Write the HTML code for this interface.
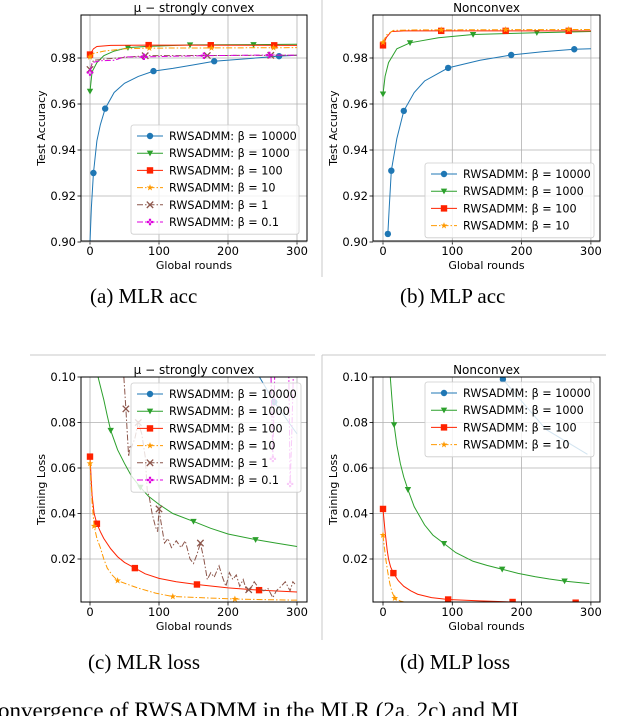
<!DOCTYPE html>
<html><head><meta charset="utf-8">
<style>
html,body{margin:0;padding:0;background:#fff;width:628px;height:716px;overflow:hidden;position:relative}
svg{position:absolute;left:0;top:0}
.cap{position:absolute;font-family:"Liberation Serif",serif;font-size:21px;color:#000;white-space:nowrap}
</style></head>
<body>
<svg id="fig" width="628" height="716"></svg>
<div class="cap" style="left:90px;top:284px">(a) MLR acc</div>
<div class="cap" style="left:400px;top:284px">(b) MLP acc</div>
<div class="cap" style="left:88px;top:650px">(c) MLR loss</div>
<div class="cap" style="left:400px;top:650px">(d) MLP loss</div>
<div class="cap" style="left:-2px;top:698px;font-size:23px">onvergence of RWSADMM in the MLR (2a, 2c) and MI</div>
<script>
// ---- data ----
const xTicks=[0,100,200,300];
const accTicks=[0.90,0.92,0.94,0.96,0.98];
const lossTicks=[0.02,0.04,0.06,0.08,0.10];
const legendLabels=["RWSADMM: \u03B2 = 10000","RWSADMM: \u03B2 = 1000","RWSADMM: \u03B2 = 100","RWSADMM: \u03B2 = 10","RWSADMM: \u03B2 = 1","RWSADMM: \u03B2 = 0.1"];

const aB10000=[[0,0.900],[2,0.915],[5,0.930],[10,0.944],[15,0.951],[22,0.958],[35,0.965],[50,0.969],[70,0.972],[92,0.9743],[120,0.9755],[150,0.977],[180,0.9786],[220,0.9795],[274,0.9808],[300,0.9812]];
const aB1000=[[0,0.9655],[3,0.974],[10,0.978],[20,0.981],[35,0.983],[55,0.9845],[80,0.985],[145,0.9857],[237,0.9858],[300,0.986]];
const aB100=[[0,0.9815],[5,0.984],[10,0.985],[30,0.9855],[85,0.9856],[300,0.9855]];
const aB10=[[0,0.9805],[5,0.982],[20,0.983],[50,0.984],[86,0.9843],[300,0.9845]];
const aB1=[[0,0.975],[5,0.979],[20,0.9795],[40,0.980],[80,0.981],[300,0.9812]];
const aB01=[[0,0.9737],[3,0.978],[15,0.9788],[35,0.979],[50,0.9805],[78,0.9805],[165,0.981],[260,0.9813],[300,0.9812]];

const bB10000=[[7,0.9035],[9,0.915],[12,0.931],[20,0.945],[30,0.957],[45,0.965],[60,0.970],[94,0.9757],[140,0.979],[185,0.9813],[230,0.9827],[276,0.9838],[300,0.984]];
const bB1000=[[0,0.9643],[3,0.972],[8,0.978],[20,0.984],[39,0.9866],[80,0.9888],[130,0.9902],[222,0.991],[300,0.9915]];
const bB100=[[0,0.9855],[5,0.989],[12,0.9915],[30,0.9918],[300,0.9918]];
const bB10=[[0,0.9868],[5,0.990],[15,0.992],[40,0.9922],[300,0.9924]];

const cB10000=[[230,0.108],[267,0.089],[300,0.075]];
const cB1000=[[10,0.102],[15,0.096],[20,0.090],[25,0.083],[30,0.0765],[40,0.068],[50,0.062],[60,0.0565],[73,0.0515],[85,0.0475],[100,0.044],[120,0.040],[150,0.0365],[175,0.0335],[200,0.031],[240,0.0285],[270,0.027],[300,0.0255]];
const cB100=[[0,0.065],[3,0.048],[6,0.040],[10,0.0355],[15,0.032],[20,0.029],[30,0.0245],[40,0.021],[50,0.0185],[65,0.016],[80,0.0135],[100,0.0115],[125,0.0100],[155,0.0088],[200,0.0073],[245,0.0063],[300,0.0055]];
const cB10=[[0,0.062],[3,0.045],[6,0.0345],[10,0.029],[15,0.025],[20,0.020],[25,0.016],[32,0.013],[40,0.0105],[55,0.0088],[70,0.0072],[95,0.005],[120,0.0035],[160,0.003],[210,0.0024],[260,0.0021],[300,0.0019]];
const cB1=[[48,0.105],[52,0.086],[56,0.065],[58,0.07],[60,0.069],[65,0.073],[70,0.08],[75,0.075],[80,0.065],[83,0.05],[86,0.047],[90,0.04],[95,0.034],[98,0.032],[100,0.042],[103,0.036],[108,0.027],[113,0.029],[118,0.025],[125,0.028],[132,0.025],[138,0.028],[145,0.02],[150,0.018],[155,0.022],[160,0.027],[165,0.02],[170,0.011],[175,0.014],[180,0.012],[187,0.017],[192,0.012],[197,0.008],[202,0.014],[207,0.011],[212,0.013],[217,0.008],[222,0.011],[227,0.006],[233,0.007],[238,0.01],[245,0.007],[252,0.006],[258,0.007],[265,0.003],[270,0.006],[277,0.008],[283,0.01],[290,0.006],[294,0.01],[297,0.009]];
const cB01=[[262,0.105],[265,0.064],[268,0.105],[288,0.105],[290,0.053],[292,0.07],[295,0.105]];

const dB10000=[[150,0.104],[173,0.099],[235,0.077],[295,0.066]];
const dB1000=[[10,0.102],[13,0.090],[16,0.079],[20,0.070],[25,0.062],[30,0.056],[36,0.0505],[45,0.043],[60,0.035],[72,0.0305],[88,0.0268],[105,0.0228],[130,0.019],[150,0.0172],[172,0.0155],[195,0.0137],[220,0.0122],[240,0.0112],[262,0.0103],[298,0.0092]];
const dB100=[[0,0.042],[3,0.032],[6,0.024],[8,0.02],[11,0.0165],[15,0.0138],[22,0.0105],[30,0.008],[40,0.006],[50,0.0045],[70,0.003],[94,0.0022],[140,0.0016],[187,0.0011],[278,0.0008],[300,0.0008]];
const dB10=[[0,0.0305],[2,0.025],[4,0.02],[7,0.014],[10,0.009],[13,0.0055],[17,0.0028],[25,0.0015],[35,0.0008],[60,0.0005],[300,0.0003]];

// marker rounds
const aMk=[[5,22,92,180,274],[0,55,145,237],[0,85,175,267],[0,86,176,266],[0,80,170,262],[0,78,165,260]];
const bMk=[[7,12,30,94,185,276],[0,39,130,222],[0,84,177,268],[0,84,177,268]];
const cMk=[[267],[30,73,150,240],[0,10,65,155,245],[0,6,40,120,210],[52,70,100,160,230],[265,290]];
const dMk=[[173],[16,36,88,172,262],[0,15,94,187,278],[0,17]];

// ---- drawing ----
const NS="http://www.w3.org/2000/svg";
const fig=document.getElementById('fig');
const colors=["#1f77b4","#2ca02c","#ff2200","#ff9900","#8c564b","#dd00dd"];
const dashes=["","","","6,2,1.5,2","6,2,1.5,2","6,2,1.5,2"];
const mkTypes=["o","v","s","*","x","P"];
function el(t,a,p){const e=document.createElementNS(NS,t);for(const k in a)e.setAttribute(k,a[k]);(p||fig).appendChild(e);return e;}
function interp(s,x){if(x<=s[0][0])return s[0][1];for(let i=1;i<s.length;i++){if(x<=s[i][0]){const t=(x-s[i-1][0])/(s[i][0]-s[i-1][0]);return s[i-1][1]+t*(s[i][1]-s[i-1][1]);}}return s[s.length-1][1];}
function marker(g,type,cx,cy,c){
  const r=3.2;
  if(type==="o")return el('circle',{cx,cy,r,fill:c},g);
  if(type==="s")return el('rect',{x:cx-r,y:cy-r,width:2*r,height:2*r,fill:c},g);
  if(type==="v")return el('polygon',{points:`${cx-r},${cy-r*0.8} ${cx+r},${cy-r*0.8} ${cx},${cy+r}`,fill:c},g);
  if(type==="*"){let p=[];for(let i=0;i<10;i++){const a=-Math.PI/2+i*Math.PI/5,rr=i%2?r*0.45:r*1.1;p.push((cx+rr*Math.cos(a)).toFixed(2)+','+(cy+rr*Math.sin(a)).toFixed(2));}return el('polygon',{points:p.join(' '),fill:c},g);}
  if(type==="x")return el('path',{d:`M${cx-r},${cy-r}L${cx+r},${cy+r}M${cx-r},${cy+r}L${cx+r},${cy-r}`,stroke:c,'stroke-width':1.3},g);
  return el('path',{d:`M${cx-r},${cy-1.1}h${2*r}v2.2h${-2*r}zM${cx-1.1},${cy-r}v${2*r}h2.2v${-2*r}z`,fill:c},g);
}
function chart(o){
  const g=el('g',{});
  
  
  const X=v=>o.ox+v*o.kx, Y=o.Y;
  const L=o.L,R=o.R,T=o.T,B=o.B;
  const cid='clip-'+o.name;
  const cp=el('clipPath',{id:cid},g);el('rect',{x:L,y:T,width:R-L,height:B-T},cp);
  xTicks.forEach(t=>{const l=el('line',{x1:X(t),x2:X(t),y1:T,y2:B,stroke:'#b0b0b0','stroke-width':0.8},g);
    
    el('line',{x1:X(t),x2:X(t),y1:B,y2:B+3.5,stroke:'#000','stroke-width':0.8},g);
    const tx=el('text',{x:X(t),y:B+14,'text-anchor':'middle','font-size':11.5,'font-family':'DejaVu Sans, sans-serif'},g);tx.textContent=t;
    });
  o.yt.forEach(t=>{const yy=Y(t);const l=el('line',{x1:L,x2:R,y1:yy,y2:yy,stroke:'#b0b0b0','stroke-width':0.8},g);
    
    el('line',{x1:L-3.5,x2:L,y1:yy,y2:yy,stroke:'#000','stroke-width':0.8},g);
    const tx=el('text',{x:L-5,y:yy+4,'text-anchor':'end','font-size':11.5,'font-family':'DejaVu Sans, sans-serif'},g);tx.textContent=t.toFixed(2);
    });
  const sg=el('g',{'clip-path':`url(#${cid})`},g);
  o.series.forEach((s,i)=>{
    const p=el('polyline',{points:s.map(q=>X(q[0]).toFixed(2)+','+Y(q[1]).toFixed(2)).join(' '),fill:'none',stroke:colors[i],'stroke-width':1,'stroke-dasharray':dashes[i]},sg);
    
    o.mk[i].forEach(m=>{const mm=marker(sg,mkTypes[i],X(m),Y(interp(s,m)),colors[i]);
      });
  });
  const sp=el('rect',{x:L,y:T,width:R-L,height:B-T,fill:'none',stroke:'#000','stroke-width':1},g);
  
  const ti=el('text',{x:(L+R)/2,y:T-3,'text-anchor':'middle','font-size':12,'font-family':'DejaVu Sans, sans-serif'},g);ti.textContent=o.title;
  
  const xl=el('text',{x:(L+R)/2,y:B+28,'text-anchor':'middle','font-size':11,'font-family':'DejaVu Sans, sans-serif'},g);xl.textContent='Global rounds';
  
  const yx=L-36,yy=(T+B)/2;
  const yl=el('text',{x:yx,y:yy,'text-anchor':'middle','font-size':11,'font-family':'DejaVu Sans, sans-serif',transform:`rotate(-90 ${yx} ${yy})`},g);yl.textContent=o.ylabel;
  
  const lg=el('g',{},g);
  const n=o.series.length;
  el('rect',{x:o.lx,y:o.ly,width:o.lw,height:n*17.2+6,rx:2.5,fill:'#fff','fill-opacity':0.8,stroke:'#cccccc','stroke-width':0.8},lg);
  for(let i=0;i<n;i++){
    const ey=o.ly+11+i*17.2;
    const e=el('g',{},lg);
    el('line',{x1:o.lx+6,x2:o.lx+32,y1:ey,y2:ey,stroke:colors[i],'stroke-width':1,'stroke-dasharray':dashes[i]},e);
    marker(e,mkTypes[i],o.lx+19,ey,colors[i]);
    const t=el('text',{x:o.lx+38,y:ey+4,'font-size':11.2,'font-family':'DejaVu Sans, sans-serif'},e);t.textContent=legendLabels[i];
  }
}
const accY=v=>58-(v-0.98)/0.02*46;
const lossY=v=>377+(0.10-v)*2275;
const keys=["beta-10000","beta-1000","beta-100","beta-10","beta-1","beta-0.1"];
chart({name:'mlr-acc-chart',title:'\u03BC \u2212 strongly convex',ylabel:'Test Accuracy',L:81,R:307,T:15,B:241,ox:90,kx:0.69,Y:accY,yt:accTicks,series:[aB10000,aB1000,aB100,aB10,aB1,aB01],mk:aMk,keys,lx:131,ly:125,lw:168});
chart({name:'mlp-acc-chart',title:'Nonconvex',ylabel:'Test Accuracy',L:373,R:600,T:15,B:241,ox:383,kx:0.693,Y:accY,yt:accTicks,series:[bB10000,bB1000,bB100,bB10],mk:bMk,keys,lx:425,ly:163,lw:169});
chart({name:'mlr-loss-chart',title:'\u03BC \u2212 strongly convex',ylabel:'Training Loss',L:81,R:307,T:377,B:602,ox:90,kx:0.69,Y:lossY,yt:lossTicks,series:[cB10000,cB1000,cB100,cB10,cB1,cB01],mk:cMk,keys,lx:131,ly:383,lw:170});
chart({name:'mlp-loss-chart',title:'Nonconvex',ylabel:'Training Loss',L:373,R:600,T:377,B:602,ox:383,kx:0.693,Y:lossY,yt:lossTicks,series:[dB10000,dB1000,dB100,dB10],mk:dMk,keys,lx:425,ly:382,lw:169});
[[322,0,322,277],[322,355,322,640],[30,355,315,355],[322,355,606,355]].forEach(a=>{
  const l=el('line',{x1:a[0],y1:a[1],x2:a[2],y2:a[3],stroke:'#c8c8c8','stroke-width':1});
  });
</script>
</body></html>
